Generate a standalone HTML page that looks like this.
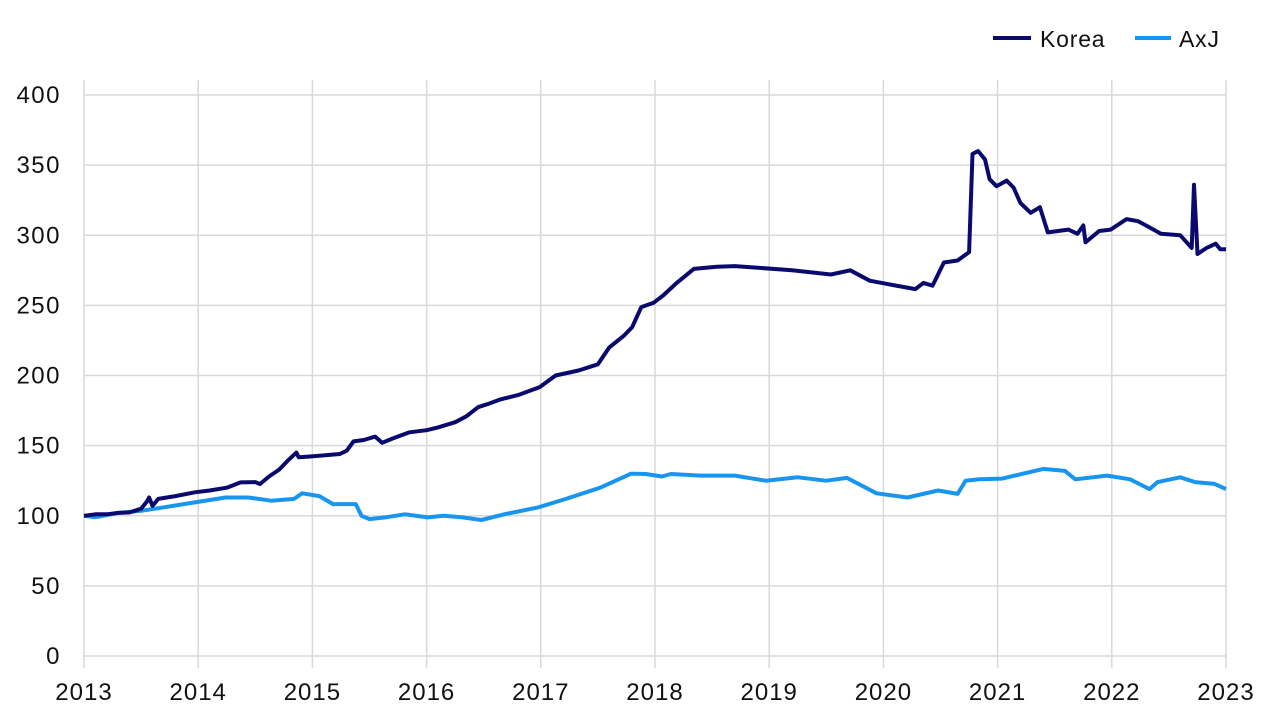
<!DOCTYPE html>
<html><head><meta charset="utf-8"><style>
body{margin:0;background:#fff;font-family:"Liberation Sans",sans-serif;}
svg text{font-family:"Liberation Sans",sans-serif;fill:#111;}
</style></head><body>
<svg id="chart" width="1280" height="720" viewBox="0 0 1280 720">
<g id="grid"></g>
<g id="axes"></g>
<g id="series"></g>
<g>
  <g>
    <line x1="993" y1="38" x2="1031" y2="38" stroke="#0a0a6e" stroke-width="4"/>
    <text x="1040" y="47" font-size="23" letter-spacing="0.8">Korea</text>
  </g>
  <g>
    <line x1="1135" y1="38" x2="1171" y2="38" stroke="#1895ee" stroke-width="4"/>
    <text x="1179" y="47" font-size="23" letter-spacing="0.8">AxJ</text>
  </g>
</g>
</svg>
<script>
const xTicks=[2013,2014,2015,2016,2017,2018,2019,2020,2021,2022,2023];
const yTicks=[0,50,100,150,200,250,300,350,400];
const koreaDates=[2013,2013.1,2013.2,2013.3,2013.4,2013.5,2013.55,2013.57,2013.6,2013.65,2013.8,2013.97,2014.1,2014.25,2014.37,2014.5,2014.54,2014.62,2014.71,2014.78,2014.86,2014.88,2014.95,2015.1,2015.24,2015.3,2015.36,2015.45,2015.55,2015.61,2015.7,2015.85,2016,2016.1,2016.25,2016.35,2016.45,2016.55,2016.65,2016.8,2016.99,2017.13,2017.33,2017.5,2017.6,2017.73,2017.8,2017.88,2017.99,2018.07,2018.19,2018.34,2018.54,2018.7,2018.87,2019.2,2019.54,2019.71,2019.88,2020.05,2020.28,2020.35,2020.43,2020.53,2020.65,2020.75,2020.78,2020.83,2020.89,2020.93,2020.99,2021.08,2021.14,2021.2,2021.29,2021.37,2021.44,2021.62,2021.7,2021.75,2021.77,2021.89,2021.99,2022.13,2022.23,2022.33,2022.43,2022.6,2022.7,2022.72,2022.75,2022.83,2022.91,2022.95,2023];
const koreaValues=[100,101,101,102,102.4,105,110,113,107,112,114,116.7,118,120,123.8,124,122.6,128,133,139,145,141.7,142,143,144,146.4,153,154,156.4,152,155,159.5,161,163,166.7,171,177.4,180,183,186,191.7,200,203.6,208,220,228.6,234.5,248.8,252,257,266,276,277.6,278,277,275,272,275,267.6,265,261.6,266,264,280.6,282,288,358,360,354,340,335,339,334,323,316,320,302,304,301,307,295,303,304,311.5,310,305.6,301,300,291,336,286.6,291,294,290,290];
const axjDates=[2013,2013.1,2013.3,2013.5,2013.7,2013.97,2014.24,2014.44,2014.64,2014.84,2014.91,2015.06,2015.18,2015.38,2015.43,2015.5,2015.65,2015.81,2016.01,2016.15,2016.3,2016.48,2016.68,2016.98,2017.22,2017.52,2017.79,2017.92,2018.06,2018.14,2018.4,2018.7,2018.97,2019.25,2019.5,2019.68,2019.94,2020.21,2020.48,2020.65,2020.72,2020.84,2021.04,2021.4,2021.59,2021.68,2021.96,2022.16,2022.33,2022.4,2022.6,2022.73,2022.9,2023];
const axjValues=[100,99,102,103.5,106,109.5,113,113,110.7,112,116,114,108.3,108.3,100,97.6,99,101,98.8,100,99,97,101,106,112,120,130,129.8,128,129.8,128.6,128.6,125,127.4,125,127,116,113,118,115.6,125,126,126.5,133.4,132,126,128.6,126,119,124,127.4,124,122.7,119];
const ns="http://www.w3.org/2000/svg";
const X0=84,X1=1226,Y0=656,Y1=95;
const xs=t=>X0+(t-2013)/10*(X1-X0);
const ys=v=>Y0-v/400*(Y0-Y1);
const grid=document.getElementById('grid'),axes=document.getElementById('axes'),ser=document.getElementById('series');
function mk(tag,attrs,parent){const e=document.createElementNS(ns,tag);for(const k in attrs)e.setAttribute(k,attrs[k]);parent.appendChild(e);return e;}
yTicks.forEach(v=>{
  const l=mk('line',{x1:X0,x2:X1,y1:ys(v),y2:ys(v),stroke:'#d9d9d9','stroke-width':1.5},grid);
  
  
  const t=mk('text',{x:61,y:ys(v)+8,'text-anchor':'end','font-size':24,'letter-spacing':1.5},axes);
  
  
  t.textContent=v;
});
xTicks.forEach(y=>{
  const l=mk('line',{x1:xs(y),x2:xs(y),y1:Y1-15,y2:Y0+12,stroke:'#d9d9d9','stroke-width':1.5},grid);
  
  
  const t=mk('text',{x:xs(y),y:700,'text-anchor':'middle','font-size':24,'letter-spacing':1},axes);
  
  
  t.textContent=y;
});
function line(d,v,color,name){
  const p=d.map((t,i)=>(i?'L':'M')+xs(t).toFixed(1)+','+ys(v[i]).toFixed(1)).join('');
  const e=mk('path',{d:p,fill:'none',stroke:color,'stroke-width':4,'stroke-linejoin':'round'},ser);
  
  
}
line(axjDates,axjValues,'#1895ee','axj-line');
line(koreaDates,koreaValues,'#0a0a6e','korea-line');
</script>
</body></html>
